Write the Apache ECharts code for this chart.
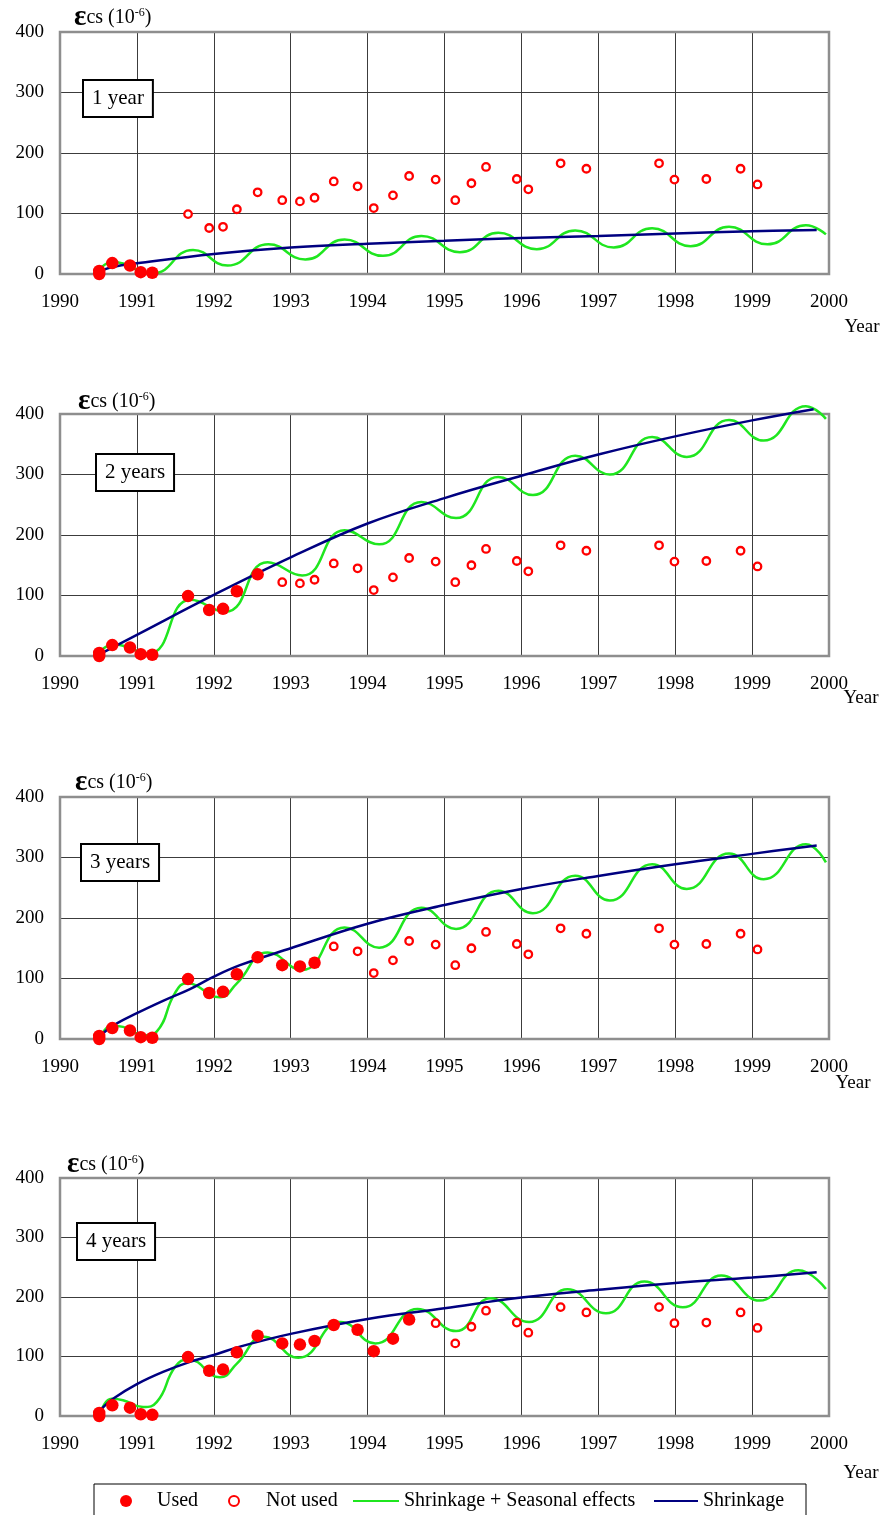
<!DOCTYPE html>
<html><head><meta charset="utf-8">
<script src="https://cdn.jsdelivr.net/npm/echarts@6/dist/echarts.min.js"></script>
<style>html,body{margin:0;padding:0;background:#fff}#c{width:884px;height:1515px}</style>
</head><body><div id="c"></div>
<script>
// ---- data ----
const obsYears  = [1990.51, 1990.51, 1990.68, 1990.91, 1991.05, 1991.2, 1991.665, 1991.94, 1992.12, 1992.3, 1992.57, 1992.89, 1993.12, 1993.31, 1993.56, 1993.87, 1994.08, 1994.33, 1994.54, 1994.885, 1995.14, 1995.35, 1995.54, 1995.94, 1996.09, 1996.51, 1996.845, 1997.79, 1997.99, 1998.405, 1998.85, 1999.07];
const obsValues = [5, 0, 18, 14, 3, 2, 99, 76, 78, 107, 135, 122, 120, 126, 153, 145, 109, 130, 162, 156, 122, 150, 177, 157, 140, 183, 174, 183, 156, 157, 174, 148];
const usedCounts = [6, 11, 14, 19];
const panelLabels = ['1 year', '2 years', '3 years', '4 years'];
const xTickLabels = ['1990','1991','1992','1993','1994','1995','1996','1997','1998','1999','2000'];
const yTickLabels = ['0','100','200','300','400'];

const shrink1 = [[1990.5,4],[1990.7,12],[1991,17.6],[1992,33],[1993,43.6],[1994,50],[1995,55],[1996,59.6],[1997,63],[1998,67],[1999,70.6],[1999.84,72.8]];
const shrink2 = [[1990.5,2],[1991,35],[1992,101],[1993,163],[1994,219],[1995,261],[1996,298],[1997,333],[1998,363],[1999,389.5],[1999.8,408]];
const shrink3 = [[1990.54,7],[1990.69,22],[1991,42.6],[1991.34,63],[1991.69,82.5],[1992,103],[1992.34,122],[1993,150],[1994,190.6],[1995,221.5],[1996,248],[1997,269.6],[1998,289],[1999,306],[1999.84,320]];
const shrink4 = [[1990.54,12],[1990.69,29],[1991,53.5],[1991.34,74],[1991.69,91],[1992,102.5],[1992.34,116.6],[1993,138],[1994,163],[1995,181],[1996,199],[1997,212],[1998,223.6],[1999,232.6],[1999.84,241.6]];

const seasonal1 = [[1990.5,5],[1990.68,20],[1991.2,1],[1991.73,39.7],[1992.18,14],[1992.71,49],[1993.19,24],[1993.7,57],[1994.2,30],[1994.7,63],[1995.2,36],[1995.7,68],[1996.2,41],[1996.7,72],[1997.2,44],[1997.7,75.6],[1998.2,46],[1998.7,78],[1999.2,49],[1999.7,80.5],[1999.96,65.6]];
const seasonal2 = [[1990.5,5],[1990.7,19],[1991.15,4],[1991.7,93],[1992.15,73],[1992.7,155],[1993.15,133],[1993.7,208],[1994.15,184.6],[1994.7,254.5],[1995.15,228],[1995.7,296],[1996.15,266],[1996.7,331],[1997.15,300],[1997.7,362],[1998.15,329],[1998.7,390],[1999.15,356],[1999.7,413],[1999.96,392]];
const seasonal3 = [[1990.54,6],[1990.67,22],[1990.82,20],[1991.1,6],[1991.26,12.6],[1991.5,77],[1991.65,92],[1992.08,69],[1992.3,92],[1992.7,143],[1993.15,114],[1993.7,184.5],[1994.15,151],[1994.7,217],[1995.15,182],[1995.7,245],[1996.15,208],[1996.7,270],[1997.15,229],[1997.7,289],[1998.15,248],[1998.7,306.6],[1999.15,264],[1999.7,322],[1999.96,292]];
const seasonal4 = [[1990.54,9.6],[1990.67,29],[1990.82,26.5],[1991.08,15],[1991.26,23.7],[1991.5,83],[1991.67,95],[1992.08,65],[1992.3,88],[1992.65,133],[1993.1,98],[1993.65,158],[1994.1,122],[1994.65,180],[1995.15,142.7],[1995.6,198],[1996.1,158],[1996.6,213],[1997.1,172.5],[1997.6,226],[1998.1,182.6],[1998.6,236],[1999.1,194],[1999.6,245],[1999.96,213.5]];

const shrinkSets = [shrink1, shrink2, shrink3, shrink4];
const seasonalSets = [seasonal1, seasonal2, seasonal3, seasonal4];

// ---- layout / style ----
const FONT = '"Liberation Serif", "Times New Roman", serif';
const GREEN = '#1fe61f', NAVY = '#000080', RED = '#ff0000';
const PLOT_LEFT = 60, PLOT_WIDTH = 769;
const layout = [
  {top: 32,   height: 242, yName: [74, 18],   box: [84, 81],   year: [862, 327]},
  {top: 414,  height: 242, yName: [78, 402],  box: [97, 455],  year: [861, 698]},
  {top: 797,  height: 242, yName: [75, 783],  box: [82, 845],  year: [853, 1083]},
  {top: 1178, height: 238, yName: [67, 1165], box: [78, 1224], year: [861, 1473]}
];

const obs = obsYears.map((y, i) => [y, obsValues[i]]);
const grids = [], xAxes = [], yAxes = [], series = [], graphics = [];

layout.forEach((L, i) => {
  grids.push({left: PLOT_LEFT, width: PLOT_WIDTH, top: L.top, height: L.height, containLabel: false});
  xAxes.push({
    gridIndex: i, type: 'value', min: 1990, max: 2000, interval: 1,
    axisLine: {show: false}, axisTick: {show: false},
    splitLine: {show: true, lineStyle: {color: '#3c3c3c', width: 1}},
    axisLabel: {fontFamily: FONT, fontSize: 19, color: '#000', margin: 19,
      formatter: v => xTickLabels[Math.round(v - 1990)]}
  });
  yAxes.push({
    gridIndex: i, type: 'value', min: 0, max: 400, interval: 100,
    axisLine: {show: false}, axisTick: {show: false},
    splitLine: {show: true, lineStyle: {color: '#3c3c3c', width: 1}},
    axisLabel: {fontFamily: FONT, fontSize: 19, color: '#000', margin: 16,
      formatter: v => yTickLabels[Math.round(v / 100)]}
  });
  series.push({
    type: 'line', name: 'Shrinkage + Seasonal effects', xAxisIndex: i, yAxisIndex: i,
    data: seasonalSets[i], smooth: 0.5, symbol: 'none', showSymbol: false, clip: false,
    lineStyle: {color: GREEN, width: 2.5}, itemStyle: {color: GREEN}, z: 3
  });
  series.push({
    type: 'line', name: 'Shrinkage', xAxisIndex: i, yAxisIndex: i,
    data: shrinkSets[i], smooth: 0.4, symbol: 'none', showSymbol: false, clip: false,
    lineStyle: {color: NAVY, width: 2.5}, itemStyle: {color: NAVY}, z: 4
  });
  series.push({
    type: 'scatter', name: 'Used', xAxisIndex: i, yAxisIndex: i,
    data: obs.slice(0, usedCounts[i]), symbol: 'circle', symbolSize: 12.5,
    itemStyle: {color: RED, opacity: 1}, z: 5
  });
  series.push({
    type: 'scatter', name: 'Not used', xAxisIndex: i, yAxisIndex: i,
    data: obs.slice(usedCounts[i]), symbol: 'circle', symbolSize: 7.5,
    itemStyle: {color: '#ffffff', borderColor: RED, borderWidth: 2.3, opacity: 1}, z: 5
  });
  // plot frame
  graphics.push({type: 'rect', z: 1, silent: true,
    shape: {x: PLOT_LEFT, y: L.top, width: PLOT_WIDTH, height: L.height},
    style: {fill: 'none', stroke: '#8e8e8e', lineWidth: 2.5}});
  // y axis name
  graphics.push({type: 'text', z: 10, x: L.yName[0], y: L.yName[1], silent: true,
    style: {
      text: '{e|ε}{t|cs (10}{s|-6}{t|)}', textVerticalAlign: 'middle', textAlign: 'left',
      rich: {
        e: {fontFamily: FONT, fontSize: 29, fontWeight: 'bold', fill: '#000'},
        t: {fontFamily: FONT, fontSize: 20, fill: '#000'},
        s: {fontFamily: FONT, fontSize: 12, fill: '#000', padding: [0, 0, 10, 0]}
      }
    }});
  // panel label box
  graphics.push({type: 'text', z: 10, x: L.box[0], y: L.box[1], silent: true,
    style: {
      text: panelLabels[i], fontFamily: FONT, fontSize: 21, fill: '#000',
      textAlign: 'left', textVerticalAlign: 'top',
      backgroundColor: '#fff', borderColor: '#000', borderWidth: 2, padding: [7, 8, 7, 8]
    }});
  // Year label
  graphics.push({type: 'text', z: 10, x: L.year[0], y: L.year[1], silent: true,
    style: {text: 'Year', fontFamily: FONT, fontSize: 19, fill: '#000',
      textAlign: 'center', textVerticalAlign: 'middle'}});
});

// legend frame
graphics.push({type: 'rect', z: 1, silent: true,
  shape: {x: 94, y: 1484, width: 712, height: 44},
  style: {fill: '#fff', stroke: '#000', lineWidth: 1}});

const legendText = {fontFamily: FONT, fontSize: 20, color: '#000'};
const legends = [
  {data: ['Used'], left: 120, top: 1491, itemWidth: 12, itemHeight: 12,
   textStyle: Object.assign({padding: [0, 0, 0, 20]}, legendText)},
  {data: ['Not used'], left: 228, top: 1491, itemWidth: 10, itemHeight: 10,
   textStyle: Object.assign({padding: [0, 0, 0, 22]}, legendText)},
  {data: [{name: 'Shrinkage + Seasonal effects', itemStyle: {opacity: 0}}], left: 352, top: 1491,
   itemWidth: 46, itemHeight: 12, textStyle: legendText},
  {data: [{name: 'Shrinkage', itemStyle: {opacity: 0}}], left: 653, top: 1491,
   itemWidth: 44, itemHeight: 12, textStyle: legendText}
].map(l => Object.assign({padding: 0, selectedMode: false, z: 10}, l));

const chart = echarts.init(document.getElementById('c'), null, {renderer: 'canvas'});
chart.setOption({
  animation: false,
  backgroundColor: '#fff',
  grid: grids, xAxis: xAxes, yAxis: yAxes, series: series,
  graphic: graphics,
  legend: legends
});
</script></body></html>
